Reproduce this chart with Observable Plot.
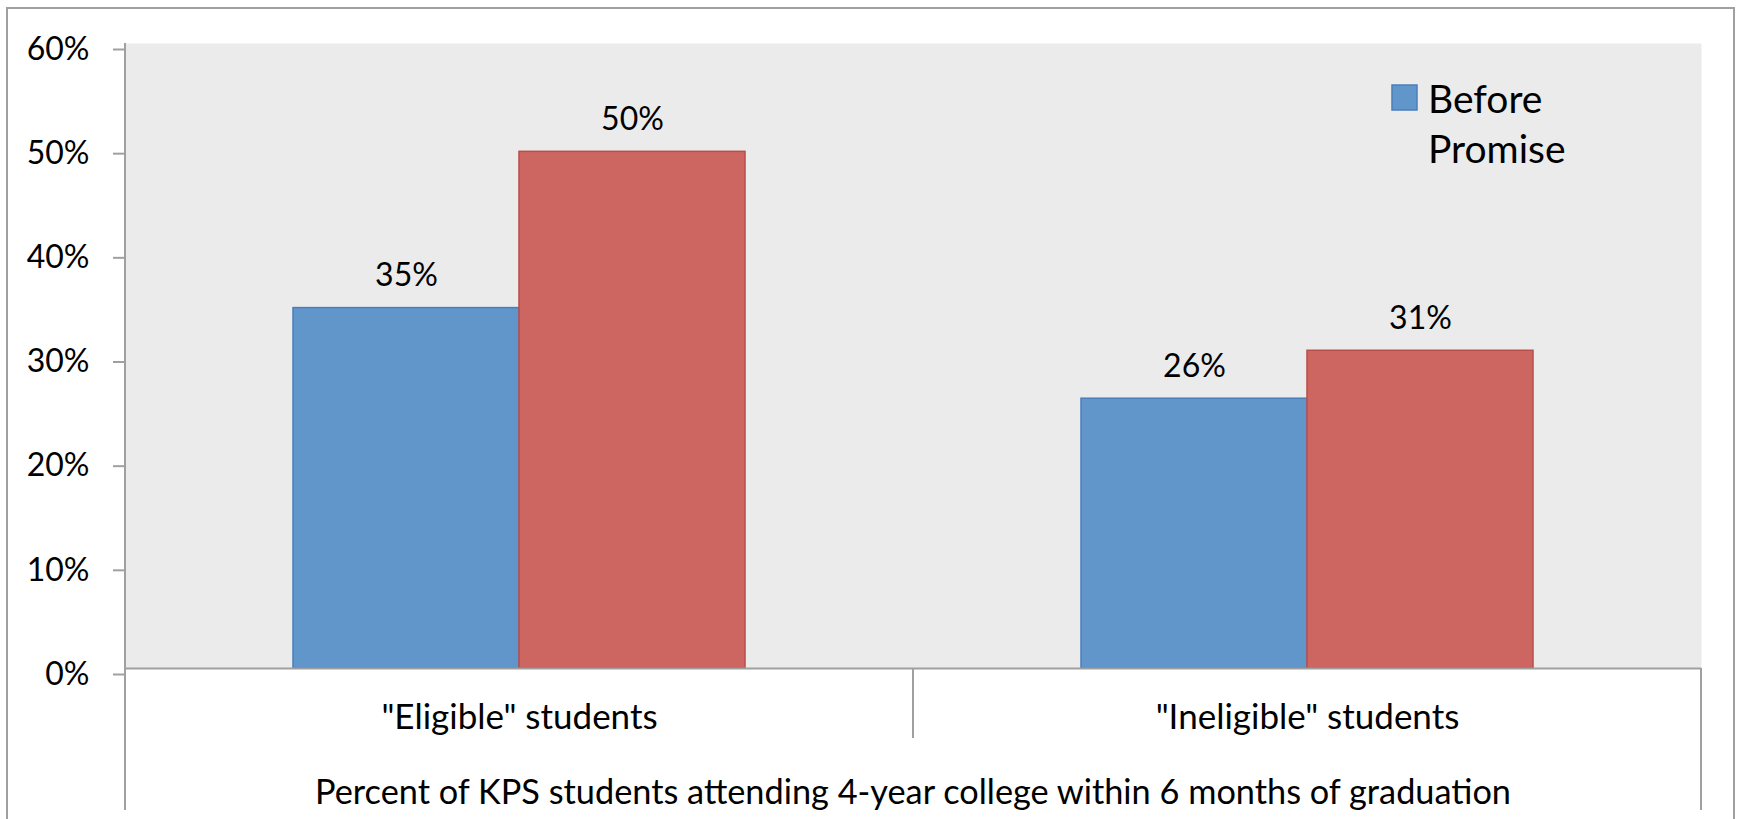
<!DOCTYPE html>
<html>
<head>
<meta charset="utf-8">
<script src="https://cdn.jsdelivr.net/npm/d3@7"></script>
<script src="https://cdn.jsdelivr.net/npm/@observablehq/plot@0.6"></script>
<style>
  html, body { margin: 0; padding: 0; background: #ffffff; }
  #chart svg { display: block; font-family: Lato, "Open Sans", sans-serif; }
</style>
</head>
<body>
<div id="chart"></div>
<script>
// ---- data ----
const categories = ['"Eligible" students', '"Ineligible" students'];
const seriesNames = ["Before Promise", "After Promise"];
const beforeValues = [34.6, 25.9];
const afterValues = [49.6, 30.5];
const beforeLabels = ["35%", "26%"];
const afterLabels = ["50%", "31%"];
const yTicks = [0, 10, 20, 30, 40, 50, 60];
const axisTitle = "Percent of KPS students attending 4-year college within 6 months of graduation";
const legendLines = ["Before", "Promise"];

// ---- styles ----
const W = 1738, H = 819;
const margin = {top: 43, right: 37, bottom: 151, left: 125};
const fills = ["#6096C9", "#CD6661"];
const strokes = ["#4A7EBB", "#B94D49"];
const gridGray = "#A0A0A0";
const pad = {paddingInner: 0.4264, paddingOuter: 0.2132};

const xStandalone = Plot.scale({x: {type: "band", domain: categories, range: [margin.left, W - margin.right], ...pad}});
const half = xStandalone.bandwidth / 2;

const beforeRows = categories.map((c, i) => ({category: c, series: seriesNames[0], value: beforeValues[i], label: beforeLabels[i]}));
const afterRows = categories.map((c, i) => ({category: c, series: seriesNames[1], value: afterValues[i], label: afterLabels[i]}));

const plot = Plot.plot({
  width: W,
  height: H,
  marginTop: margin.top,
  marginRight: margin.right,
  marginBottom: margin.bottom,
  marginLeft: margin.left,
  style: {background: "transparent", fontFamily: "Lato, 'Open Sans', sans-serif", color: "black"},
  x: {type: "band", domain: categories, ...pad, label: null},
  y: {domain: [0, 60], label: null},
  marks: [
    Plot.frame({fill: "#EBEBEB", stroke: "none"}),
    Plot.barY(beforeRows, {x: "category", y: "value", fill: fills[0], stroke: strokes[0], strokeWidth: 1.5, insetRight: half}),
    Plot.barY(afterRows, {x: "category", y: "value", fill: fills[1], stroke: strokes[1], strokeWidth: 1.5, insetLeft: half}),
    Plot.text(beforeRows, {x: "category", y: "value", text: "label", dx: -half / 2, dy: -22, lineAnchor: "bottom", fontSize: 32, fill: "black"}),
    Plot.text(afterRows, {x: "category", y: "value", text: "label", dx: half / 2, dy: -22, lineAnchor: "bottom", fontSize: 32, fill: "black"}),
    Plot.ruleY([0], {stroke: gridGray, strokeWidth: 2}),
    Plot.axisY({ticks: yTicks, tickFormat: d => d + "%", tickSize: 12, tickPadding: 24, fontSize: 32, stroke: gridGray, strokeWidth: 2, fill: "black", dy: 6, label: null}),
    Plot.axisX({tickSize: 0, tickPadding: 36, fontSize: 35, fill: "black", label: null})
  ]
});

document.getElementById("chart").appendChild(plot);

// ---- decorations (Excel-style category axis lines, outer frame, legend, axis title) ----
const svg = d3.select(plot);
const xs = plot.scale("x"), ys = plot.scale("y");
const y0 = ys.apply(0), yTop = ys.apply(60);
const xL = margin.left, xR = W - margin.right;
const divider = (xs.apply(categories[0]) + xs.bandwidth + xs.apply(categories[1])) / 2;
const level1 = y0 + 70, level2 = y0 + 142;

const deco = svg.append("g").attr("stroke", gridGray).attr("stroke-width", 2).attr("fill", "none");
deco.append("line").attr("x1", xL).attr("x2", xL).attr("y1", yTop).attr("y2", level2);
deco.append("line").attr("x1", xR).attr("x2", xR).attr("y1", y0).attr("y2", level2);
deco.append("line").attr("x1", divider).attr("x2", divider).attr("y1", y0).attr("y2", level1);
deco.append("rect").attr("x", 7).attr("y", 8).attr("width", W - 4 - 7).attr("height", H + 40);

svg.append("text")
  .attr("x", (xL + xR) / 2).attr("y", y0 + 136)
  .attr("text-anchor", "middle").attr("font-size", 34.3).attr("fill", "black")
  .text(axisTitle);

const lg = svg.append("g");
lg.append("rect").attr("x", 1392).attr("y", 85).attr("width", 25).attr("height", 25)
  .attr("fill", fills[0]).attr("stroke", strokes[0]).attr("stroke-width", 1.5);
legendLines.forEach((t, i) => {
  lg.append("text").attr("x", 1428).attr("y", 113 + i * 50)
    .attr("text-anchor", "start").attr("font-size", 39).attr("fill", "black").text(t);
});
</script>
</body>
</html>
